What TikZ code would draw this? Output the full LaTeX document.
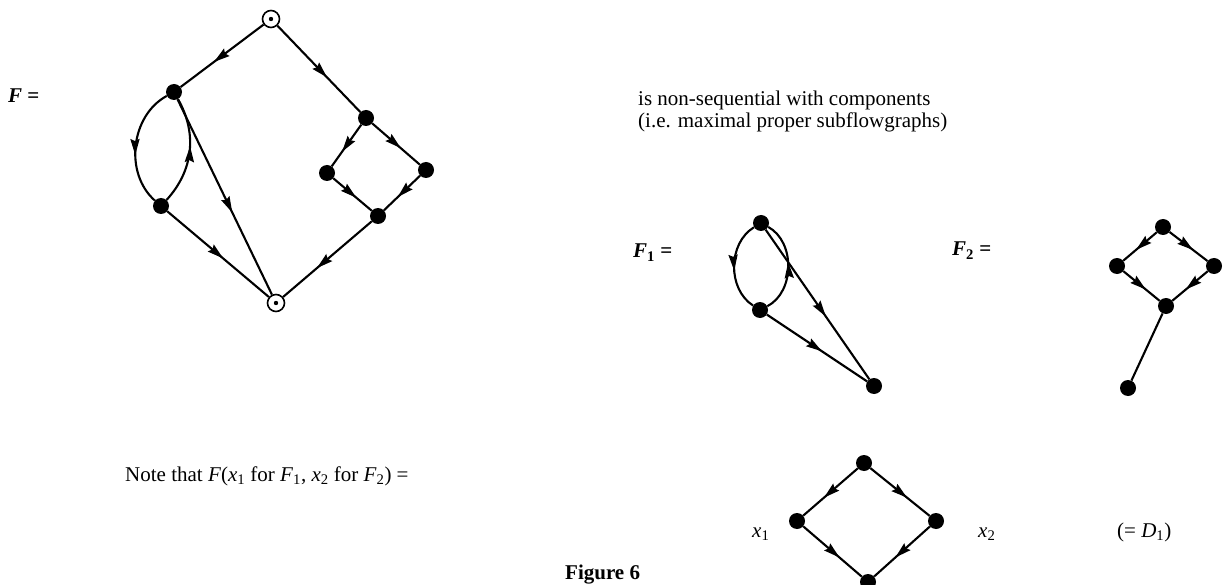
\documentclass[tikz,border=0pt]{standalone}
\usepackage{fontspec}
\setmainfont{Liberation Serif}
\usetikzlibrary{arrows.meta,decorations.markings}

\tikzset{
  vtx/.style={circle, fill=black, inner sep=0pt, minimum size=16pt},
  term/.style={circle, draw=black, line width=1.6pt, fill=white, inner sep=0pt, minimum size=17pt,
    path picture={\fill[black] (path picture bounding box.center) circle (2.2pt);}},
  flow/.style={line width=2.1pt, postaction={decorate},
    decoration={markings, mark=at position #1 with {\arrow{Stealth[length=16pt,width=9pt,inset=2pt]}}}},
  flow/.default=0.58,
  link/.style={line width=2.1pt},
  txt/.style={inner sep=0pt, anchor=base west, font=\fontsize{21}{25}\selectfont}
}

\begin{document}
\begin{tikzpicture}[x=1pt, y=-1pt]
\useasboundingbox (0,0) rectangle (1228,585);

% flowgraph F
\node[term] (s) at (271,19) {};
\node[vtx] (a) at (174,92) {};
\node[vtx] (b) at (161,206) {};
\node[term] (t) at (276,303) {};
\node[vtx] (c) at (366,118) {};
\node[vtx] (d) at (327,173) {};
\node[vtx] (e) at (426,170) {};
\node[vtx] (g) at (378,216) {};
\draw[flow=0.6] (s) -- (a);
\draw[flow=0.6] (s) -- (c);
\draw[flow=0.58] (a) to[bend right=55] (b);
\draw[flow=0.55] (b) to[bend right=36] (a);
\draw[flow=0.58] (a) -- (t);
\draw[flow=0.55] (b) -- (t);
\draw[flow=0.65] (c) -- (d);
\draw[flow=0.6] (c) -- (e);
\draw[flow=0.6] (d) -- (g);
\draw[flow=0.62] (e) -- (g);
\draw[flow=0.62] (g) -- (t);

% component F1
\node[vtx] (p) at (761,223) {};
\node[vtx] (q) at (760,310) {};
\node[vtx] (r) at (874,386) {};
\draw[flow=0.55] (p) to[bend right=58] (q);
\draw[flow=0.55] (q) to[bend right=62] (p);
\draw[flow=0.58] (p) -- (r);
\draw[flow=0.55] (q) -- (r);

% component F2
\node[vtx] (u) at (1163,227) {};
\node[vtx] (v) at (1117,266) {};
\node[vtx] (w) at (1214,266) {};
\node[vtx] (z) at (1166,306) {};
\node[vtx] (y) at (1128,388) {};
\draw[flow=0.62] (u) -- (v);
\draw[flow=0.62] (u) -- (w);
\draw[flow=0.62] (v) -- (z);
\draw[flow=0.62] (w) -- (z);
\draw[link] (z) -- (y);

% D1
\node[vtx] (k) at (864,463) {};
\node[vtx] (l) at (797,521) {};
\node[vtx] (m) at (936,521) {};
\node[vtx] (n) at (868,582) {};
\draw[flow=0.62] (k) -- (l);
\draw[flow=0.62] (k) -- (m);
\draw[flow=0.62] (l) -- (n);
\draw[flow=0.62] (m) -- (n);

% texts
\node[txt] (lblF) at (8,103) {\textbf{\textit{F} =}};
\node[txt] (desc1) at (638,106) {is non-sequential with components};
\node[txt] (desc2) at (638,128) {(i.e. maximal proper subflowgraphs)};
\node[txt] (lblFa) at (633,258) {\textbf{\textit{F}\textsubscript{1} =}};
\node[txt] (lblFb) at (952,256) {\textbf{\textit{F}\textsubscript{2} =}};
\node[txt] (note) at (125,481) {Note that \textit{F}(\textit{x}\textsubscript{1} for \textit{F}\textsubscript{1}, \textit{x}\textsubscript{2} for \textit{F}\textsubscript{2}) =};
\node[txt] (xa) at (752,537) {\textit{x}\textsubscript{1}};
\node[txt] (xb) at (978,537) {\textit{x}\textsubscript{2}};
\node[txt] (eqD) at (1117,537) {(= \textit{D}\textsubscript{1})};
\node[txt] (cap) at (565,579) {\textbf{Figure 6}};
\end{tikzpicture}
\end{document}
